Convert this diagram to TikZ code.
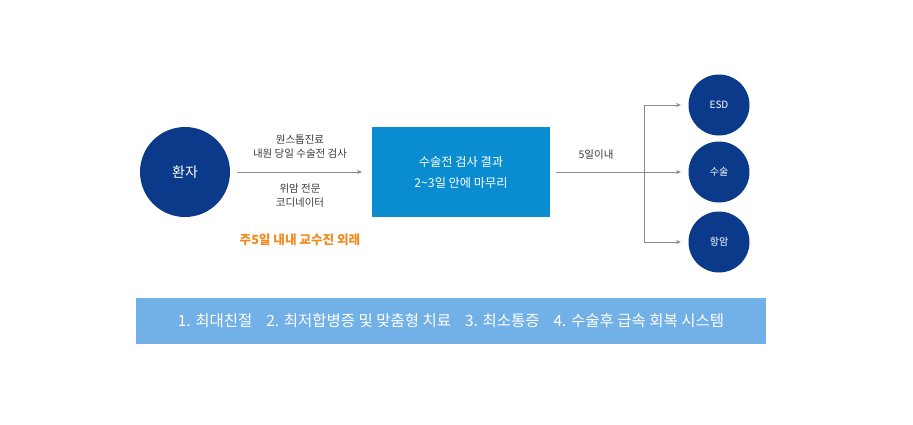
\documentclass[tikz,border=0pt]{standalone}
\usepackage{fontspec}
\setmainfont{Noto Sans CJK KR}
\usetikzlibrary{arrows.meta}
\definecolor{navy}{HTML}{0B3A8A}
\definecolor{boxblue}{HTML}{0A8DD0}
\definecolor{barblue}{HTML}{72B0E8}
\definecolor{orng}{HTML}{F08A1C}
\definecolor{grayline}{HTML}{8C8C8C}
\definecolor{txtgray}{HTML}{3C3C3C}
\tikzset{
  bigcirc/.style={circle, fill=navy, minimum size=90pt, inner sep=0pt, text=white, font=\fontsize{14}{16}\selectfont},
  smallcirc/.style={circle, fill=navy, minimum size=61pt, inner sep=0pt, text=white, font=\fontsize{10}{12}\selectfont},
  conn/.style={draw=grayline, line width=0.8pt, -{Stealth[length=5pt,width=4pt]}},
  lbl/.style={text=txtgray, font=\fontsize{10.5}{14}\selectfont, align=center},
}
\begin{document}
\begin{tikzpicture}[x=1pt,y=-1pt]
\useasboundingbox[fill=white] (0,0) rectangle (913,424);
\node[bigcirc] (patient) at (185,172) {환자};
\node[fill=boxblue, minimum width=178pt, minimum height=90pt, inner sep=0pt, text=white, align=center, font=\fontsize{12.2}{21}\selectfont] (box) at (461,172) {수술전 검사 결과\\2\textasciitilde3일 안에 마무리};
\node[smallcirc] (esd) at (719,105) {ESD};
\node[smallcirc] (surg) at (719,172) {수술};
\node[smallcirc] (chemo) at (719,242) {항암};
\coordinate (a1s) at (237,172);
\coordinate (a1e) at (362,172);
\draw[conn] (a1s) -- (a1e);
\node[lbl] (top1) at (300,147) {원스톱진료\\내원 당일 수술전 검사};
\node[lbl] (bot1) at (300,196) {위암 전문\\코디네이터};
\node[text=orng, font=\fontsize{12.6}{14}\selectfont\bfseries] (orange) at (300,240) {주5일 내내 교수진 외래};
\coordinate (a2s) at (556,172);
\coordinate (br) at (644,172);
\coordinate (brtop) at (644,105);
\coordinate (brbot) at (644,242);
\coordinate (e1) at (681,105);
\coordinate (e2) at (681,172);
\coordinate (e3) at (681,242);
\draw[conn] (a2s) -- (e2);
\draw[conn] (br) -- (brtop) -- (e1);
\draw[conn] (br) -- (brbot) -- (e3);
\node[lbl] (five) at (596,155) {5일이내};
\node[fill=barblue, minimum width=630pt, minimum height=46pt, inner sep=0pt, text=white, font=\fontsize{15.5}{17}\selectfont] (bar) at (451,321) {1. 최대친절\hspace{0.9em}2. 최저합병증 및 맞춤형 치료\hspace{0.9em}3. 최소통증\hspace{0.9em}4. 수술후 급속 회복 시스템};
\end{tikzpicture}
\end{document}
